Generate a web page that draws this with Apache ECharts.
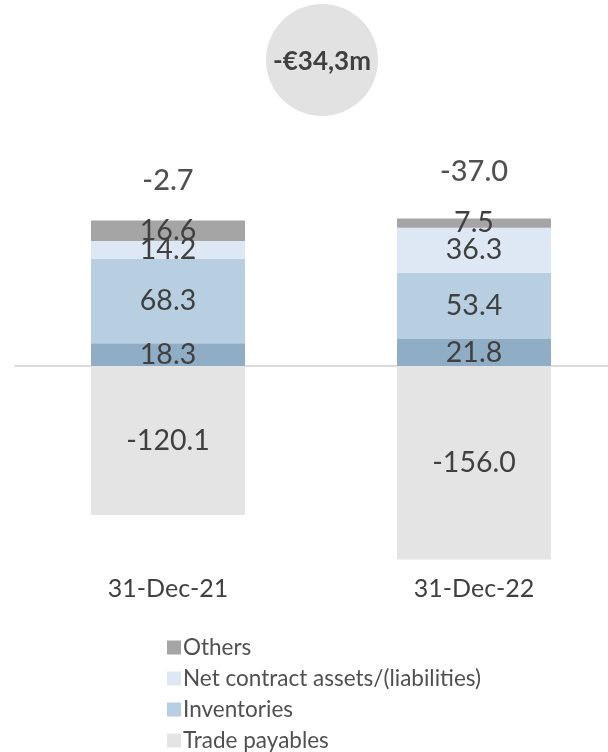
<!DOCTYPE html>
<html><head><meta charset="utf-8">
<script src="https://cdn.jsdelivr.net/npm/echarts@6/dist/echarts.min.js"></script>
<style>html,body{margin:0;padding:0;background:#fff}#c{width:608px;height:752px}</style>
</head><body><div id="c"></div>
<script>
const categories = ['31-Dec-21', '31-Dec-22'];
const tradeReceivables = [18.3, 21.8];
const inventories = [68.3, 53.4];
const netContract = [14.2, 36.3];
const others = [16.6, 7.5];
const tradePayables = [-120.1, -156.0];
const totals = [-2.7, -37.0];
const headline = '-€34,3m';

const FONT = 'Lato';
const TXT = '#404040';
const positiveTop = categories.map((c, i) => tradeReceivables[i] + inventories[i] + netContract[i] + others[i]);

function barSeries(name, data, color) {
  return {
    name, type: 'bar', stack: 'wc', data, barWidth: 154, xAxisIndex: 0,
    itemStyle: { color },
    label: { show: true, position: 'inside', color: TXT, fontFamily: FONT, fontSize: 28.5,
      formatter: p => p.value.toFixed(1) },
    emphasis: { disabled: true }
  };
}

const chart = echarts.init(document.getElementById('c'));
chart.setOption({
  animation: false,
  grid: { left: 15, width: 612, top: 217.2, height: 347.2, outerBoundsMode: 'none', containLabel: false },
  xAxis: [
    { type: 'category', data: categories, axisLine: { onZero: true, lineStyle: { color: '#d0d0d0', width: 1.5 } },
      axisTick: { show: false }, axisLabel: { show: false } },
    { type: 'category', data: categories, position: 'bottom', axisLine: { show: false, onZero: false },
      axisTick: { show: false },
      axisLabel: { color: TXT, fontFamily: FONT, fontSize: 25, margin: 12 } }
  ],
  yAxis: { type: 'value', min: -160, max: 120, show: false, splitLine: { show: false } },
  legend: {
    orient: 'vertical', left: 162, top: 631, height: 130, itemWidth: 14, itemHeight: 14, itemGap: 8,
    icon: 'rect',
    data: ['Others', 'Net contract assets/(liabilities)', 'Inventories', 'Trade payables'],
    textStyle: { color: '#505050', fontFamily: FONT, fontSize: 22.5, padding: [0, 0, 0, -3] },
    selectedMode: false
  },
  series: [
    barSeries('Trade receivables', tradeReceivables, '#8fadc4'),
    barSeries('Inventories', inventories, '#b7cfe0'),
    barSeries('Net contract assets/(liabilities)', netContract, '#dee8f4'),
    barSeries('Others', others, '#a5a5a5'),
    barSeries('Trade payables', tradePayables, '#e4e4e4'),
    {
      name: 'Total', type: 'scatter', symbolSize: 0, xAxisIndex: 0,
      data: categories.map((c, i) => ({ value: [c, positiveTop[i]],
        label: { offset: [0, i === 0 ? -40 : -47] } })),
      label: { show: true, position: 'inside', color: '#262626', fontFamily: FONT, fontSize: 29,
        fontWeight: 500, formatter: p => totals[p.dataIndex].toFixed(1) },
      silent: true
    }
  ],
  graphic: [
    { type: 'circle', shape: { cx: 322, cy: 60, r: 56 }, style: { fill: '#e2e2e2' }, silent: true },
    { type: 'text', x: 322, y: 62, style: { text: headline, fill: TXT, font: 'bold 26px Lato',
      align: 'center', verticalAlign: 'middle' }, silent: true }
  ]
});
</script></body></html>
